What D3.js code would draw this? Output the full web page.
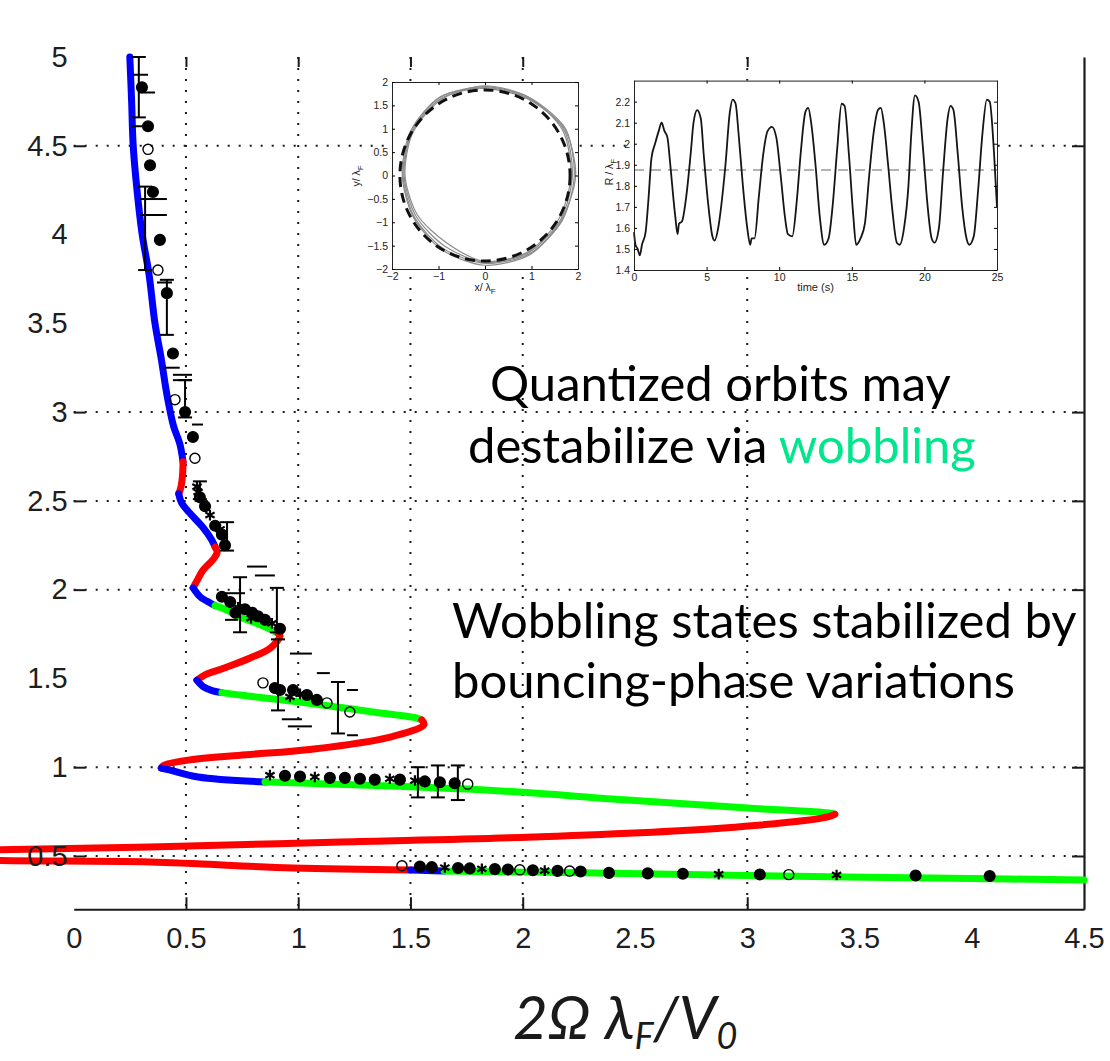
<!DOCTYPE html>
<html>
<head>
<meta charset="utf-8">
<script src="https://cdn.jsdelivr.net/npm/d3@7"></script>
<style>
  body { margin: 0; background: #fff; }
  svg { display: block; }
</style>
</head>
<body>
<div id="chart"></div>
<script>
// ---- main axes ----
const xTickLabels = [0, 0.5, 1, 1.5, 2, 2.5, 3, 3.5, 4, 4.5];
const yTickLabels = [0.5, 1, 1.5, 2, 2.5, 3, 3.5, 4, 4.5, 5];
const xGridValues = [0.5, 1, 1.5, 2, 3];
const yGridValues = [0.5, 1, 2, 2.5, 3, 4.5];

// ---- theory curve, split by stability ----
const segTop      = [[0.250,5.0],[0.258,4.75],[0.265,4.5],[0.282,4.25],[0.305,4.0],[0.335,3.78],[0.362,3.5],[0.39,3.3],[0.415,3.1],[0.445,2.92],[0.473,2.82],[0.487,2.72]];
const segRed1     = [[0.487,2.72],[0.485,2.65],[0.478,2.58],[0.468,2.54]];
const segBlue2    = [[0.468,2.54],[0.48,2.49],[0.518,2.43],[0.576,2.35],[0.615,2.28],[0.63,2.24]];
const segRed2     = [[0.63,2.24],[0.639,2.21],[0.621,2.17],[0.576,2.11],[0.549,2.05],[0.532,2.01]];
const segBlue3    = [[0.532,2.01],[0.563,1.96],[0.608,1.925],[0.63,1.91]];
const segGreen1   = [[0.63,1.91],[0.683,1.885],[0.741,1.845],[0.817,1.81],[0.888,1.77],[0.91,1.755]];
const segRed3     = [[0.91,1.755],[0.919,1.74],[0.875,1.67],[0.786,1.615],[0.674,1.56],[0.585,1.52],[0.549,1.49]];
const segBlue4    = [[0.549,1.49],[0.575,1.455],[0.62,1.43],[0.66,1.42]];
const segGreen2   = [[0.66,1.42],[0.75,1.405],[1.039,1.362],[1.333,1.311],[1.53,1.277],[1.55,1.266]];
const segRed4     = [[1.55,1.266],[1.56,1.24],[1.41,1.17],[1.05,1.10],[0.767,1.07],[0.51,1.04],[0.40,1.01],[0.39,0.995]];
const segBlue5    = [[0.39,0.995],[0.425,0.985],[0.554,0.945],[0.852,0.917]];
const segGreen3   = [[0.852,0.917],[1.831,0.872],[2.468,0.815],[3.002,0.77],[3.363,0.742],[3.39,0.735]];
const segRed5     = [[3.39,0.735],[3.36,0.72],[2.896,0.658],[2.045,0.607],[1.19,0.579],[0.34,0.551],[-0.328,0.535],[-0.9,0.51],[-1.0,0.5],[-0.9,0.49],[-0.328,0.474],[0.34,0.466],[0.977,0.432],[1.50,0.421]];
const segBlue6    = [[1.50,0.421],[1.57,0.418],[1.65,0.415]];
const segGreen4   = [[1.65,0.415],[2.258,0.405],[3.0,0.39],[4.0,0.373],[4.5,0.365]];

const curveSegments = [
  { state: 'stable',   points: segTop },
  { state: 'unstable', points: segRed1 },
  { state: 'stable',   points: segBlue2 },
  { state: 'unstable', points: segRed2 },
  { state: 'stable',   points: segBlue3 },
  { state: 'wobbling', points: segGreen1 },
  { state: 'unstable', points: segRed3 },
  { state: 'stable',   points: segBlue4 },
  { state: 'wobbling', points: segGreen2 },
  { state: 'unstable', points: segRed4 },
  { state: 'stable',   points: segBlue5 },
  { state: 'wobbling', points: segGreen3 },
  { state: 'unstable', points: segRed5 },
  { state: 'stable',   points: segBlue6 },
  { state: 'wobbling', points: segGreen4 }
];

// ---- experimental points: [x, y, kind]  f = filled, o = open, s = star ----
const obsPoints = [
  [0.304,4.83,'f'],[0.331,4.61,'f'],[0.331,4.48,'o'],[0.340,4.39,'f'],[0.353,4.24,'f'],
  [0.384,3.97,'f'],[0.375,3.80,'o'],[0.415,3.67,'f'],[0.442,3.33,'f'],[0.451,3.07,'o'],
  [0.496,3.00,'f'],[0.531,2.86,'f'],[0.540,2.74,'o'],[0.549,2.58,'s'],[0.554,2.55,'s'],
  [0.562,2.52,'f'],[0.585,2.47,'f'],[0.607,2.42,'s'],[0.630,2.36,'f'],[0.652,2.34,'s'],
  [0.660,2.31,'f'],[0.674,2.25,'f'],
  [0.660,1.96,'f'],[0.697,1.93,'f'],[0.720,1.87,'f'],[0.732,1.90,'s'],[0.763,1.89,'f'],
  [0.790,1.84,'s'],[0.795,1.87,'f'],[0.821,1.85,'f'],[0.852,1.83,'f'],[0.883,1.81,'s'],
  [0.919,1.78,'f'],
  [0.843,1.475,'o'],[0.896,1.446,'f'],[0.919,1.435,'f'],[0.963,1.396,'s'],[0.977,1.435,'f'],
  [1.008,1.413,'s'],[1.039,1.407,'f'],[1.083,1.379,'f'],[1.128,1.362,'o'],[1.230,1.311,'o'],
  [0.874,0.955,'s'],[0.941,0.952,'f'],[1.008,0.948,'f'],[1.074,0.945,'s'],[1.141,0.940,'f'],
  [1.208,0.940,'f'],[1.275,0.935,'f'],[1.341,0.930,'f'],[1.408,0.935,'s'],[1.453,0.930,'f'],
  [1.520,0.925,'s'],[1.564,0.920,'f'],[1.631,0.915,'f'],[1.697,0.910,'f'],[1.755,0.905,'o'],
  [1.462,0.445,'o'],[1.542,0.440,'f'],[1.595,0.437,'f'],[1.653,0.435,'s'],[1.712,0.432,'f'],
  [1.764,0.430,'f'],[1.818,0.428,'s'],[1.876,0.426,'f'],[1.934,0.424,'f'],[1.987,0.422,'o'],
  [2.045,0.420,'f'],[2.098,0.418,'s'],[2.155,0.416,'f'],[2.209,0.415,'o'],[2.258,0.413,'f'],
  [2.384,0.405,'f'],[2.557,0.402,'f'],[2.713,0.400,'f'],[2.873,0.398,'s'],[3.056,0.396,'f'],
  [3.185,0.395,'o'],[3.398,0.393,'s'],[3.750,0.390,'f'],[4.080,0.387,'f']
];

// vertical error bars: [x, yLow, yHigh]
const errBarsV = [
  [0.290,4.66,5.0],[0.318,3.80,4.27],[0.415,3.435,3.745],[0.496,2.97,3.18],[0.562,2.51,2.61],
  [0.683,2.22,2.38],[0.741,1.76,2.07],[0.905,1.76,2.01],[0.910,1.32,1.72],[1.177,1.19,1.48],
  [1.533,0.83,1.00],[1.622,0.83,1.01],[1.711,0.815,1.01]
];
// horizontal error bar caps: [xLow, xHigh, y]
const errCaps = [
  [0.264,0.331,4.90],[0.286,0.362,4.80],[0.260,0.353,4.61],[0.295,0.415,4.20],[0.295,0.415,4.11],
  [0.371,0.438,3.73],[0.398,0.472,3.25],[0.442,0.527,3.21],[0.442,0.527,3.18],[0.527,0.576,2.93],
  [0.772,0.861,2.13],[0.807,0.896,2.08],[0.674,0.763,1.98],[0.674,0.732,1.83],[0.963,1.061,1.64],
  [1.083,1.141,1.53],[0.927,1.017,1.27],[0.954,1.061,1.23],[1.217,1.266,1.435],[1.217,1.266,1.18]
];

// ---- inset 1: orbit shapes, radius (in lambda_F) at each angle ----
const orbitAngles = [0, 30, 60, 90, 120, 150, 180, 210, 240, 270, 300, 330];
const orbitLoops = [
  [1.92,2.00,1.92,1.90,1.93,1.84,1.76,1.76,1.80,1.88,1.93,1.92],
  [1.88,1.96,1.90,1.88,1.90,1.82,1.74,1.72,1.74,1.86,1.90,1.88],
  [1.95,1.98,1.88,1.86,1.94,1.86,1.78,1.78,1.84,1.92,1.95,1.90],
  [1.85,1.93,1.92,1.92,1.88,1.80,1.72,1.68,1.66,1.84,1.88,1.84]
];
const meanOrbitRadius = 1.83;
const orbitTicksX = [-2, -1, 0, 1, 2];
const orbitTicksY = [-2, -1.5, -1, -0.5, 0, 0.5, 1, 1.5, 2];

// ---- inset 2: R / lambda_F against time ----
const timeS = [0,0.1,0.25,0.4,0.55,0.8,1.0,1.2,1.45,1.7,1.9,2.1,2.3,2.5,2.7,2.85,3.0,3.1,3.3,3.6,3.9,4.1,4.35,4.6,4.8,5.1,5.4,5.55,5.8,6.0,6.3,6.6,6.8,7.0,7.2,7.5,7.8,8.0,8.1,8.3,8.6,8.9,9.2,9.5,9.8,10.1,10.4,10.6,10.9,11.2,11.5,11.8,12.0,12.2,12.5,12.8,13.1,13.4,13.7,14.0,14.3,14.5,14.8,15.1,15.3,15.6,15.9,16.2,16.5,16.8,17.0,17.2,17.5,17.8,18.1,18.3,18.6,18.9,19.1,19.35,19.6,19.9,20.2,20.5,20.7,21.0,21.3,21.6,21.8,22.0,22.3,22.6,22.9,23.1,23.4,23.7,24.0,24.3,24.5,24.8,25.0];
const radiusR = [1.58,1.52,1.50,1.47,1.52,1.58,1.74,1.93,2.00,2.06,2.10,2.06,2.03,1.90,1.75,1.65,1.57,1.62,1.63,1.75,1.95,2.10,2.16,2.12,1.95,1.72,1.56,1.54,1.60,1.70,1.90,2.15,2.21,2.19,2.05,1.80,1.60,1.52,1.55,1.55,1.75,1.95,2.06,2.08,2.03,1.85,1.65,1.57,1.56,1.72,1.97,2.15,2.17,2.10,1.90,1.65,1.52,1.55,1.72,1.98,2.19,2.18,1.95,1.66,1.52,1.55,1.62,1.85,2.05,2.16,2.17,2.10,1.90,1.68,1.53,1.52,1.60,1.80,2.05,2.23,2.20,1.98,1.72,1.55,1.53,1.60,1.88,2.12,2.18,2.16,1.95,1.70,1.55,1.52,1.56,1.78,2.05,2.21,2.20,1.95,1.70];
const meanRadius = 1.875;
const radiusTicksX = [0, 5, 10, 15, 20, 25];
const radiusTicksY = [1.4, 1.5, 1.6, 1.7, 1.8, 1.9, 2, 2.1, 2.2];

const config = {
  width: 1110,
  height: 1061,
  stateColor: { stable: '#0000ff', unstable: '#ff0000', wobbling: '#00ff00' },
  gridColor: '#1a1a1a',
  textFont: 'Lato, "Open Sans", sans-serif',
  tickFont: '"Liberation Sans", Arial, sans-serif',
  wobbleColor: '#00e68c'
};

const svg = d3.select('#chart').append('svg')
  .attr('width', config.width)
  .attr('height', config.height);

const x = d3.scaleLinear().domain([0, 4.5]).range([73.7, 1084]);
const y = d3.scaleLinear().domain([0.2, 5]).range([909.25, 57]);
const fmt = d3.format('');

// dotted grid
const grid = svg.append('g');
grid.selectAll('.vgrid').data(xGridValues).join('line')
  .attr('x1', d => x(d)).attr('x2', d => x(d))
  .attr('y1', y(5)).attr('y2', y(0.2))
  .attr('stroke', config.gridColor).attr('stroke-width', 2)
  .attr('stroke-dasharray', '2,9');
grid.selectAll('.hgrid').data(yGridValues).join('line')
  .attr('x1', x(0)).attr('x2', x(4.5))
  .attr('y1', d => y(d)).attr('y2', d => y(d))
  .attr('stroke', config.gridColor).attr('stroke-width', 2)
  .attr('stroke-dasharray', '2,9');

// tick marks (inward) and the two visible spines
function styleAxis(g) {
  g.selectAll('line').attr('stroke', '#1a1a1a').attr('stroke-width', 2);
  g.selectAll('path').attr('stroke', '#1a1a1a').attr('stroke-width', 2.2);
}
svg.append('g').attr('transform', 'translate(0,' + y(0.2) + ')')
  .call(d3.axisBottom(x).tickValues(xGridValues).tickSize(-12).tickSizeOuter(0).tickFormat(''))
  .call(styleAxis);
svg.append('g').attr('transform', 'translate(' + x(4.5) + ',0)')
  .call(d3.axisRight(y).tickValues(yGridValues).tickSize(-12).tickSizeOuter(0).tickFormat(''))
  .call(styleAxis);
svg.append('g').attr('transform', 'translate(' + x(0) + ',0)')
  .call(d3.axisLeft(y).tickValues(yGridValues).tickSize(-12).tickFormat(''))
  .call(styleAxis)
  .call(g => g.select('.domain').remove());
svg.append('g').attr('transform', 'translate(0,' + y(5) + ')')
  .call(d3.axisTop(x).tickValues(xGridValues).tickSize(-10).tickFormat(''))
  .call(styleAxis)
  .call(g => g.select('.domain').remove());

// ---------- inset 1: orbit ----------
function drawOrbitInset() {
  const xi = d3.scaleLinear().domain([-2, 2]).range([392, 578]);
  const yi = d3.scaleLinear().domain([-2, 2]).range([269, 82]);
  const g = svg.append('g');
  g.append('rect').attr('x', 392).attr('y', 82).attr('width', 186).attr('height', 187).attr('fill', '#fff');

  const loopLine = d3.line().x(d => xi(d[0])).y(d => yi(d[1])).curve(d3.curveCardinalClosed.tension(0.2));
  orbitLoops.forEach(function(radii) {
    const pts = orbitAngles.map((a, i) => [radii[i] * Math.cos(a * Math.PI / 180), radii[i] * Math.sin(a * Math.PI / 180)]);
    g.append('path').attr('d', loopLine(pts))
      .attr('fill', 'none').attr('stroke', '#8c8c8c').attr('stroke-width', 1.2);
  });
  g.append('ellipse')
    .attr('cx', xi(0)).attr('cy', yi(0))
    .attr('rx', xi(meanOrbitRadius) - xi(0)).attr('ry', yi(0) - yi(meanOrbitRadius))
    .attr('fill', 'none').attr('stroke', '#111').attr('stroke-width', 3)
    .attr('stroke-dasharray', '10,6');

  const tf = g2 => g2.selectAll('text').attr('font-family', config.tickFont).attr('font-size', 10.5).attr('fill', '#222');
  g.append('g').attr('transform', 'translate(0,269)')
    .call(d3.axisBottom(xi).tickValues(orbitTicksX).tickSize(-3).tickPadding(4).tickSizeOuter(0).tickFormat(fmt)).call(tf);
  g.append('g').attr('transform', 'translate(0,82)')
    .call(d3.axisTop(xi).tickValues(orbitTicksX).tickSize(-3).tickSizeOuter(0).tickFormat(''));
  g.append('g').attr('transform', 'translate(392,0)')
    .call(d3.axisLeft(yi).tickValues(orbitTicksY).tickSize(-3).tickPadding(4).tickSizeOuter(0).tickFormat(fmt)).call(tf);
  g.append('g').attr('transform', 'translate(578,0)')
    .call(d3.axisRight(yi).tickValues(orbitTicksY).tickSize(-3).tickSizeOuter(0).tickFormat(''));
  g.selectAll('.domain').attr('stroke', '#222');

  const xl = g.append('text').attr('x', 485).attr('y', 291).attr('text-anchor', 'middle')
    .attr('font-family', config.tickFont).attr('font-size', 10.5).attr('fill', '#222');
  xl.append('tspan').text('x/ λ');
  xl.append('tspan').attr('dy', 3).attr('font-size', 8).text('F');
  const yl = g.append('text').attr('transform', 'translate(360,176) rotate(-90)').attr('text-anchor', 'middle')
    .attr('font-family', config.tickFont).attr('font-size', 10.5).attr('fill', '#222');
  yl.append('tspan').text('y/ λ');
  yl.append('tspan').attr('dy', 3).attr('font-size', 8).text('F');
}

// ---------- inset 2: R(t) ----------
function drawRadiusInset() {
  const xi = d3.scaleLinear().domain([0, 25]).range([634, 997]);
  const yi = d3.scaleLinear().domain([1.4, 2.3]).range([270, 80.6]);
  const g = svg.append('g');
  g.append('rect').attr('x', 634).attr('y', 80.6).attr('width', 363).attr('height', 189.4).attr('fill', '#fff');

  g.append('line')
    .attr('x1', xi(0)).attr('x2', xi(25)).attr('y1', yi(meanRadius)).attr('y2', yi(meanRadius))
    .attr('stroke', '#9a9a9a').attr('stroke-width', 1.6).attr('stroke-dasharray', '10,7');

  const series = d3.zip(timeS, radiusR);
  g.append('path')
    .attr('d', d3.line().x(d => xi(d[0])).y(d => yi(d[1])).curve(d3.curveMonotoneX)(series))
    .attr('fill', 'none').attr('stroke', '#151515').attr('stroke-width', 1.8);

  const tf = g2 => g2.selectAll('text').attr('font-family', config.tickFont).attr('font-size', 10.5).attr('fill', '#222');
  g.append('g').attr('transform', 'translate(0,270)')
    .call(d3.axisBottom(xi).tickValues(radiusTicksX).tickSize(-3).tickPadding(4).tickSizeOuter(0).tickFormat(fmt)).call(tf);
  g.append('g').attr('transform', 'translate(0,80.6)')
    .call(d3.axisTop(xi).tickValues(radiusTicksX).tickSize(-3).tickSizeOuter(0).tickFormat(''));
  g.append('g').attr('transform', 'translate(634,0)')
    .call(d3.axisLeft(yi).tickValues(radiusTicksY).tickSize(-3).tickPadding(4).tickSizeOuter(0).tickFormat(fmt)).call(tf);
  g.append('g').attr('transform', 'translate(997,0)')
    .call(d3.axisRight(yi).tickValues(radiusTicksY).tickSize(-3).tickSizeOuter(0).tickFormat(''));
  g.selectAll('.domain').attr('stroke', '#222');

  g.append('text').attr('x', xi(12.5)).attr('y', 291).attr('text-anchor', 'middle')
    .attr('font-family', config.tickFont).attr('font-size', 11).attr('fill', '#222')
    .text('time (s)');
  const yl = g.append('text').attr('transform', 'translate(613,172) rotate(-90)').attr('text-anchor', 'middle')
    .attr('font-family', config.tickFont).attr('font-size', 10.5).attr('fill', '#222');
  yl.append('tspan').text('R / λ');
  yl.append('tspan').attr('dy', 3).attr('font-size', 8).text('F');
}

drawOrbitInset();
drawRadiusInset();

// ---------- theory curve ----------
const curveLine = d3.line().x(d => x(d[0])).y(d => y(d[1])).curve(d3.curveCatmullRom.alpha(0.5));
svg.append('g').selectAll('path').data(curveSegments).join('path')
  .attr('d', d => curveLine(d.points))
  .attr('fill', 'none')
  .attr('stroke', d => config.stateColor[d.state])
  .attr('stroke-width', 7)
  .attr('stroke-linecap', 'round')
  .attr('stroke-linejoin', 'round');

// ---------- experimental data ----------
const obs = svg.append('g').attr('stroke', '#000');
obs.selectAll('.ev').data(errBarsV).join('g').each(function(d) {
  const gg = d3.select(this);
  gg.append('line').attr('x1', x(d[0])).attr('x2', x(d[0])).attr('y1', y(d[1])).attr('y2', y(d[2])).attr('stroke-width', 2);
  gg.append('line').attr('x1', x(d[0]) - 7).attr('x2', x(d[0]) + 7).attr('y1', y(d[1])).attr('y2', y(d[1])).attr('stroke-width', 2);
  gg.append('line').attr('x1', x(d[0]) - 7).attr('x2', x(d[0]) + 7).attr('y1', y(d[2])).attr('y2', y(d[2])).attr('stroke-width', 2);
});
obs.selectAll('.cap').data(errCaps).join('line')
  .attr('x1', d => x(d[0])).attr('x2', d => x(d[1]))
  .attr('y1', d => y(d[2])).attr('y2', d => y(d[2]))
  .attr('stroke-width', 2);

const star = d3.symbol().type(d3.symbolAsterisk).size(80);
obs.selectAll('.pt').data(obsPoints).join('path')
  .attr('transform', d => 'translate(' + x(d[0]) + ',' + y(d[1]) + ')')
  .attr('d', d => d[2] === 's' ? star() : d3.symbol().type(d3.symbolCircle).size(d[2] === 'f' ? 90 : 80)())
  .attr('fill', d => d[2] === 'f' ? '#000' : 'none')
  .attr('stroke-width', d => d[2] === 's' ? 2.2 : 1.4);

// tick labels, on top of the curve
svg.append('g').attr('transform', 'translate(0,' + y(0.2) + ')')
  .call(d3.axisBottom(x).tickValues(xTickLabels).tickSize(0).tickPadding(18).tickFormat(fmt))
  .call(g => g.select('.domain').remove())
  .selectAll('text')
  .attr('font-family', config.tickFont).attr('font-size', 29).attr('fill', '#1e1e1e');
svg.append('g').attr('transform', 'translate(' + x(0) + ',0)')
  .call(d3.axisLeft(y).tickValues(yTickLabels).tickSize(0).tickPadding(6).tickFormat(fmt))
  .call(g => g.select('.domain').remove())
  .selectAll('text')
  .attr('font-family', config.tickFont).attr('font-size', 29).attr('fill', '#1e1e1e');

// ---------- annotations ----------
const note = svg.append('g').attr('font-family', config.textFont).attr('font-size', 49).attr('fill', '#000');
note.append('text').attr('x', 490).attr('y', 401).text('Quantized orbits may');
const l2 = note.append('text').attr('x', 468).attr('y', 463);
l2.append('tspan').text('destabilize via ');
l2.append('tspan').attr('fill', config.wobbleColor).text('wobbling');
note.append('text').attr('x', 452).attr('y', 638).text('Wobbling states stabilized by');
note.append('text').attr('x', 452).attr('y', 698).text('bouncing-phase variations');

// x-axis title
const xt = svg.append('text').attr('x', 513).attr('y', 1039)
  .attr('font-family', config.textFont).attr('font-style', 'italic').attr('font-size', 60).attr('fill', '#1a1a1a');
xt.append('tspan').text('2Ω λ');
xt.append('tspan').attr('dy', 10).attr('font-size', 36).text('F');
xt.append('tspan').attr('dy', -10).text('/V');
xt.append('tspan').attr('dy', 10).attr('font-size', 36).text('0');
</script>
</body>
</html>
